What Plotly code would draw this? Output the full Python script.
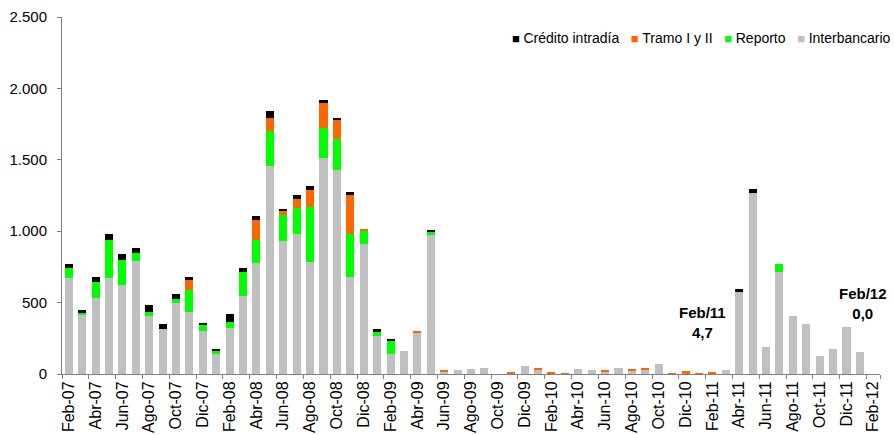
import plotly.graph_objects as go

months = [
    "Feb-07", "Mar-07", "Abr-07", "May-07", "Jun-07", "Jul-07", "Ago-07", "Sep-07", "Oct-07", "Nov-07", "Dic-07",
    "Ene-08", "Feb-08", "Mar-08", "Abr-08", "May-08", "Jun-08", "Jul-08", "Ago-08", "Sep-08", "Oct-08", "Nov-08", "Dic-08",
    "Ene-09", "Feb-09", "Mar-09", "Abr-09", "May-09", "Jun-09", "Jul-09", "Ago-09", "Sep-09", "Oct-09", "Nov-09", "Dic-09",
    "Ene-10", "Feb-10", "Mar-10", "Abr-10", "May-10", "Jun-10", "Jul-10", "Ago-10", "Sep-10", "Oct-10", "Nov-10", "Dic-10",
    "Ene-11", "Feb-11", "Mar-11", "Abr-11", "May-11", "Jun-11", "Jul-11", "Ago-11", "Sep-11", "Oct-11", "Nov-11", "Dic-11",
    "Ene-12", "Feb-12",
]

interbancario = [
    672, 416, 535, 675, 621, 789, 404, 313, 497, 432, 301,
    143, 322, 544, 780, 1454, 929, 980, 784, 1512, 1431, 679, 913,
    266, 138, 159, 287, 971, 12, 31, 33, 40, 0, 0, 57,
    33, 2, 0, 33, 26, 14, 45, 21, 28, 70, 0, 0,
    0, 0, 28, 574, 1270, 192, 714, 404, 350, 124, 173, 327,
    152, 0,
]
reporto = [
    70, 14, 109, 261, 175, 58, 30, 0, 28, 159, 40,
    18, 40, 170, 161, 245, 182, 182, 385, 210, 212, 299, 86,
    28, 93, 0, 0, 21, 0, 0, 0, 0, 0, 0, 0,
    0, 0, 0, 0, 0, 0, 0, 0, 0, 0, 0, 0,
    0, 0, 0, 0, 0, 0, 56, 0, 0, 0, 0, 0,
    0, 0,
]
tramo = [
    0, 0, 0, 0, 0, 0, 0, 0, 0, 65, 0,
    0, 0, 0, 135, 93, 28, 61, 122, 175, 133, 278, 14,
    0, 0, 0, 14, 0, 14, 0, 0, 0, 0, 10, 0,
    12, 10, 5, 0, 0, 12, 0, 10, 10, 0, 7, 21,
    5, 8, 0, 0, 0, 0, 0, 0, 0, 0, 0, 0,
    0, 0,
]
credito = [
    31, 18, 38, 47, 42, 33, 47, 35, 38, 23, 16,
    17, 61, 28, 28, 47, 14, 28, 23, 24, 14, 18, 0,
    21, 17, 0, 0, 14, 0, 0, 0, 0, 0, 0, 0,
    0, 0, 0, 0, 0, 0, 0, 0, 0, 0, 0, 0,
    0, 0, 0, 19, 23, 0, 0, 0, 0, 0, 0, 0,
    0, 0,
]

series = [
    ("Interbancario", interbancario, "#C0C0C0"),
    ("Reporto", reporto, "#00FF00"),
    ("Tramo I y II", tramo, "#FF6600"),
    ("Crédito intradía", credito, "#000000"),
]

fig = go.Figure()
for name, vals, color in series:
    fig.add_trace(go.Bar(x=months, y=vals, name=name, showlegend=False,
                         marker=dict(color=color, line=dict(width=0))))

# compact legend like the original (square right next to the text)
legend_txt = "&nbsp;&nbsp;&nbsp;".join(
    f'<span style="color:{color};font-size:13px">■&nbsp;</span>{name}' for name, _, color in reversed(series)
)
fig.add_annotation(xref="paper", yref="paper", x=1.016, y=0.941, xanchor="right", yanchor="middle",
                   text=legend_txt, showarrow=False, font=dict(size=14, color="#000000"))

fig.add_annotation(x="Feb-11", y=360, text="<b>Feb/11<br>4,7</b>", showarrow=False,
                   xshift=-10, font=dict(size=15, color="#000000"))
fig.add_annotation(x="Feb-12", y=494, text="<b>Feb/12<br>0,0</b>", showarrow=False,
                   xshift=-10, font=dict(size=15, color="#000000"))

fig.update_layout(
    width=894, height=435,
    barmode="stack", bargap=0.4,
    separators=",.",
    plot_bgcolor="white", paper_bgcolor="white",
    font=dict(family="Liberation Sans, Arial, sans-serif", size=14, color="#000000"),
    margin=dict(l=62, r=14, t=17, b=61),
    xaxis=dict(type="category", tickmode="array", tickvals=months[::2], tickangle=-90,
               tickson="boundaries", ticks="outside", ticklen=4, tickcolor="#808080",
               showline=True, linecolor="#808080", linewidth=1, showgrid=False,
               tickfont=dict(size=16), range=[-0.5, 60.5], automargin=False),
    yaxis=dict(range=[0, 2500], dtick=500, tickformat=",.0f", showgrid=False,
               showline=True, linecolor="#808080", linewidth=1, ticks="outside", ticklen=4,
               tickcolor="#808080", tickfont=dict(size=15), zeroline=False,
               ticklabelstandoff=7, automargin=False),
)

# drop the default page margin so the figure fills the window exactly
fig.write_html("out.html", config={"displayModeBar": False},
               post_script="document.body.style.margin='0';document.body.style.overflow='hidden';")
